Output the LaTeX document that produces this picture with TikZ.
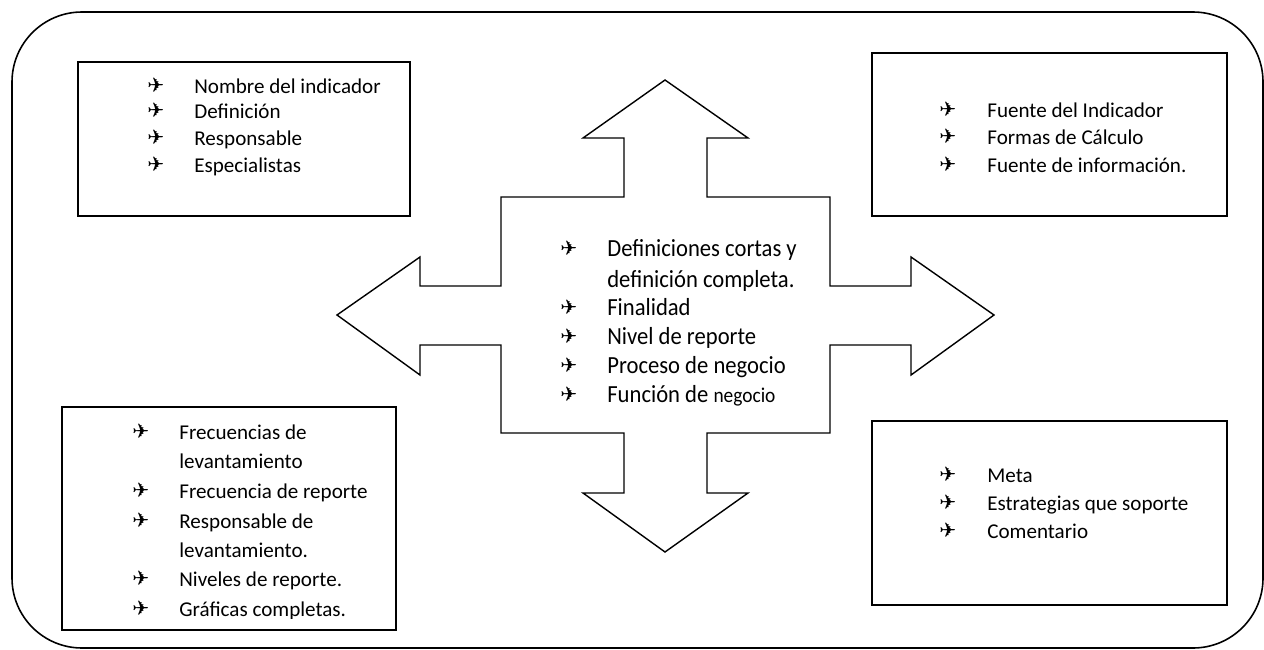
\documentclass[tikz,border=0pt]{standalone}
\usepackage{fontspec}
\setmainfont{Carlito}
\newfontfamily\condfont[FakeStretch=0.92]{Carlito}
\newfontfamily\symfont{DejaVu Sans}
\begin{document}
\begin{tikzpicture}[x=0.02cm,y=-0.02cm,
  frame/.style={draw=black, line width=0.9pt, rounded corners=1.4cm},
  box/.style={draw=black, line width=1pt},
  crossshape/.style={draw=black, line width=0.8pt, line join=miter},
  bul/.style={anchor=base west, inner sep=0pt, font=\symfont\fontsize{11.5}{13}\selectfont},
  txt/.style={anchor=base west, inner sep=0pt, font=\fontsize{12}{14}\selectfont},
  bigtxt/.style={anchor=base west, inner sep=0pt, font=\condfont\fontsize{14}{17}\selectfont}]
\useasboundingbox (0,0) rectangle (1264,649);
% outer frame
\draw[frame] (12,12) rectangle (1263,648);
% boxes
\draw[box] (78,62) rectangle (410,216);
\draw[box] (872,53) rectangle (1227,216);
\draw[box] (62,407) rectangle (396,630);
\draw[box] (872,421) rectangle (1227,605);
% central cross arrow
\draw[crossshape] (665,80) -- (748,138) -- (707,138) -- (707,197) -- (830,197) -- (830,286)
  -- (911,286) -- (911,257) -- (994,315) -- (911,375) -- (911,345) -- (830,345) -- (830,433)
  -- (707,433) -- (707,493) -- (748,493) -- (665,552) -- (583,493) -- (624,493) -- (624,433)
  -- (501,433) -- (501,345) -- (420,345) -- (420,375) -- (337,315) -- (420,257) -- (420,286)
  -- (501,286) -- (501,197) -- (624,197) -- (624,138) -- (583,138) -- cycle;
% top-left text
\node[bul] (tlb1) at (147,92) {✈};
\node[txt] (tlt1) at (194,93) {Nombre del indicador};
\node[bul] (tlb2) at (147,117) {✈};
\node[txt] (tlt2) at (194,118) {Definición};
\node[bul] (tlb3) at (147,144) {✈};
\node[txt] (tlt3) at (194,145) {Responsable};
\node[bul] (tlb4) at (147,171) {✈};
\node[txt] (tlt4) at (194,172) {Especialistas};
% top-right text
\node[bul] (trb1) at (939,116) {✈};
\node[txt] (trt1) at (987,117) {Fuente del Indicador};
\node[bul] (trb2) at (939,143) {✈};
\node[txt] (trt2) at (987,144) {Formas de Cálculo};
\node[bul] (trb3) at (939,171) {✈};
\node[txt] (trt3) at (987,172) {Fuente de información.};
% centre text
\node[bul] (cb1) at (560,255) {✈};
\node[bigtxt] (ct1) at (607,256) {Definiciones cortas y};
\node[bigtxt] (ct1b) at (607,287) {definición completa.};
\node[bul] (cb2) at (560,314) {✈};
\node[bigtxt] (ct2) at (607,315) {Finalidad};
\node[bul] (cb3) at (560,343) {✈};
\node[bigtxt] (ct3) at (607,344) {Nivel de reporte};
\node[bul] (cb4) at (560,372) {✈};
\node[bigtxt] (ct4) at (607,373) {Proceso de negocio};
\node[bul] (cb5) at (560,401) {✈};
\node[bigtxt] (ct5) at (607,402) {Función de {\fontsize{12}{14}\selectfont negocio}};
% bottom-left text
\begin{scope}
\clip (62,407) rectangle (396,618.5);
\node[bul] (blb1) at (132,438) {✈};
\node[txt] (blt1) at (179,439) {Frecuencias de};
\node[txt] (blt1b) at (179,468) {levantamiento};
\node[bul] (blb2) at (132,497) {✈};
\node[txt] (blt2) at (179,498) {Frecuencia de reporte};
\node[bul] (blb3) at (132,527) {✈};
\node[txt] (blt3) at (179,528) {Responsable de};
\node[txt] (blt3b) at (179,557) {levantamiento.};
\node[bul] (blb4) at (132,585) {✈};
\node[txt] (blt4) at (179,586) {Niveles de reporte.};
\node[bul] (blb5) at (132,615) {✈};
\node[txt] (blt5) at (179,616) {Gráficas completas.};
\end{scope}
% bottom-right text
\node[bul] (brb1) at (939,481) {✈};
\node[txt] (brt1) at (987,482) {Meta};
\node[bul] (brb2) at (939,509) {✈};
\node[txt] (brt2) at (987,510) {Estrategias que soporte};
\node[bul] (brb3) at (939,537) {✈};
\node[txt] (brt3) at (987,538) {Comentario};
\end{tikzpicture}
\end{document}
